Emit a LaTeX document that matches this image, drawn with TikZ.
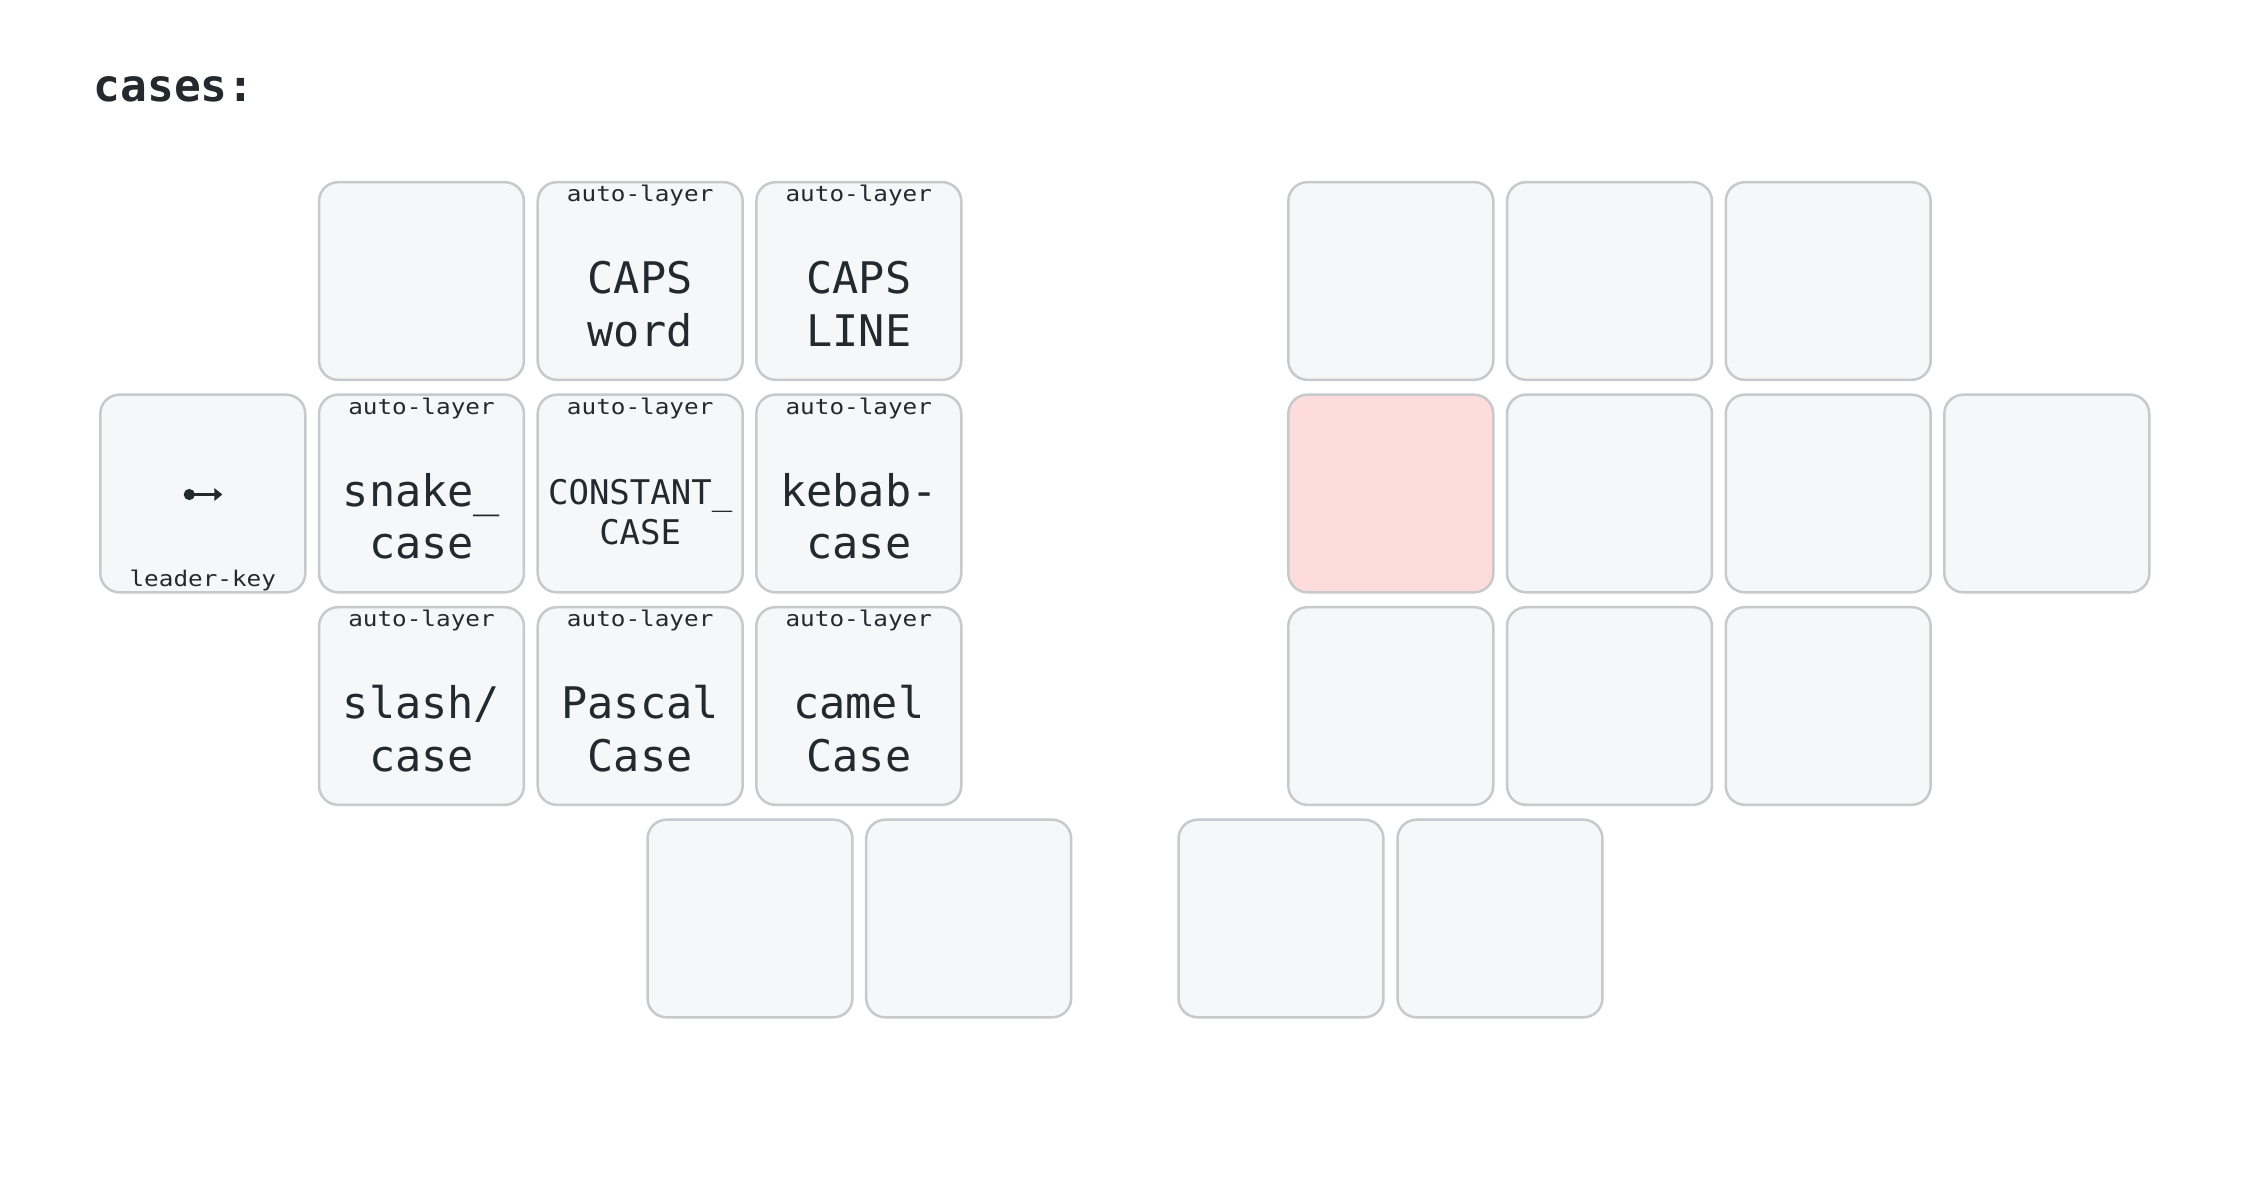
\documentclass[tikz,border=0pt]{standalone}
\usepackage{fontspec}
\usetikzlibrary{calc}
\newfontfamily\kmono{DejaVu Sans Mono}
\newfontfamily\kmonosmall[FakeStretch=1.13]{DejaVu Sans Mono}
\definecolor{keyfill}{HTML}{F6F7F9}
\definecolor{keyline}{HTML}{C7C9CD}
\definecolor{heldfill}{HTML}{FFDCDC}
\definecolor{inkc}{HTML}{24292E}
\tikzset{
  keybox/.style={draw=keyline, fill=keyfill, line width=0.025cm, rounded corners=0.19cm,
    minimum width=2.048cm, minimum height=1.975cm, inner sep=0pt, outer sep=0pt},
  heldkey/.style={keybox, fill=heldfill},
  tapbig/.style={anchor=base, inner sep=0pt, text=inkc, font=\kmono\fontsize{12.38pt}{14pt}\selectfont},
  tapmid/.style={anchor=base, inner sep=0pt, text=inkc, font=\kmono\fontsize{9.67pt}{11pt}\selectfont},
  smalltxt/.style={anchor=base, inner sep=0pt, text=inkc, font=\kmonosmall\fontsize{6.12pt}{7pt}\selectfont},
  titletxt/.style={anchor=base west, inner sep=0pt, text=inkc, font=\kmono\bfseries\fontsize{12.66pt}{15pt}\selectfont}
}
\begin{document}
\begin{tikzpicture}[x=0.01cm, y=-0.01cm]
\fill[white] (0,0) rectangle (2250,1200);
\useasboundingbox (0,0) rectangle (2250,1200);

\node[titletxt] (title) at (93,101) {cases:};

% left hand
\node[keybox] (L11) at (421.5,281) {};
\node[keybox] (L12) at (640.2,281) {};
\node[keybox] (L13) at (858.8,281) {};
\node[keybox] (L20) at (202.8,493.5) {};
\node[keybox] (L21) at (421.5,493.5) {};
\node[keybox] (L22) at (640.2,493.5) {};
\node[keybox] (L23) at (858.8,493.5) {};
\node[keybox] (L31) at (421.5,706) {};
\node[keybox] (L32) at (640.2,706) {};
\node[keybox] (L33) at (858.8,706) {};
% right hand
\node[keybox] (R10) at (1390.8,281) {};
\node[keybox] (R11) at (1609.5,281) {};
\node[keybox] (R12) at (1828.2,281) {};
\node[heldkey] (R20) at (1390.8,493.5) {};
\node[keybox] (R21) at (1609.5,493.5) {};
\node[keybox] (R22) at (1828.2,493.5) {};
\node[keybox] (R23) at (2046.8,493.5) {};
\node[keybox] (R30) at (1390.8,706) {};
\node[keybox] (R31) at (1609.5,706) {};
\node[keybox] (R32) at (1828.2,706) {};
% thumbs
\node[keybox] (TL1) at (750,918.5) {};
\node[keybox] (TL2) at (968.7,918.5) {};
\node[keybox] (TR1) at (1281,918.5) {};
\node[keybox] (TR2) at (1500,918.5) {};

% legends row 1
\node[smalltxt] (L12h) at ($(L12)+(0,-79.2)$) {auto-layer};
\node[tapbig] (L12a) at ($(L12)+(0,12.5)$) {CAPS};
\node[tapbig] (L12b) at ($(L12)+(0,65)$) {word};
\node[smalltxt] (L13h) at ($(L13)+(0,-79.2)$) {auto-layer};
\node[tapbig] (L13a) at ($(L13)+(0,12.5)$) {CAPS};
\node[tapbig] (L13b) at ($(L13)+(0,65)$) {LINE};
% row 2
\node[smalltxt] (L20h) at ($(L20)+(0,92.5)$) {leader-key};
\coordinate (dotc) at ($(L20)+(-13.5,1)$);
\coordinate (tipc) at ($(L20)+(19.5,1)$);
\fill[inkc] (dotc) circle[radius=5.6];
\draw[inkc, line width=0.035cm] (dotc) -- ($(tipc)+(-5,0)$);
\fill[inkc] (tipc) -- ($(tipc)+(-8,-6.5)$) -- ($(tipc)+(-8,6.5)$) -- cycle;
\node[smalltxt] (L21h) at ($(L21)+(0,-79.2)$) {auto-layer};
\node[tapbig] (L21a) at ($(L21)+(0,12.5)$) {snake\_};
\node[tapbig] (L21b) at ($(L21)+(0,65)$) {case};
\node[smalltxt] (L22h) at ($(L22)+(0,-79.2)$) {auto-layer};
\node[tapmid] (L22a) at ($(L22)+(0,10.5)$) {CONSTANT\_};
\node[tapmid] (L22b) at ($(L22)+(0,51)$) {CASE};
\node[smalltxt] (L23h) at ($(L23)+(0,-79.2)$) {auto-layer};
\node[tapbig] (L23a) at ($(L23)+(0,12.5)$) {kebab-};
\node[tapbig] (L23b) at ($(L23)+(0,65)$) {case};
% row 3
\node[smalltxt] (L31h) at ($(L31)+(0,-79.2)$) {auto-layer};
\node[tapbig] (L31a) at ($(L31)+(0,12.5)$) {slash/};
\node[tapbig] (L31b) at ($(L31)+(0,65)$) {case};
\node[smalltxt] (L32h) at ($(L32)+(0,-79.2)$) {auto-layer};
\node[tapbig] (L32a) at ($(L32)+(0,12.5)$) {Pascal};
\node[tapbig] (L32b) at ($(L32)+(0,65)$) {Case};
\node[smalltxt] (L33h) at ($(L33)+(0,-79.2)$) {auto-layer};
\node[tapbig] (L33a) at ($(L33)+(0,12.5)$) {camel};
\node[tapbig] (L33b) at ($(L33)+(0,65)$) {Case};
\end{tikzpicture}
\end{document}
